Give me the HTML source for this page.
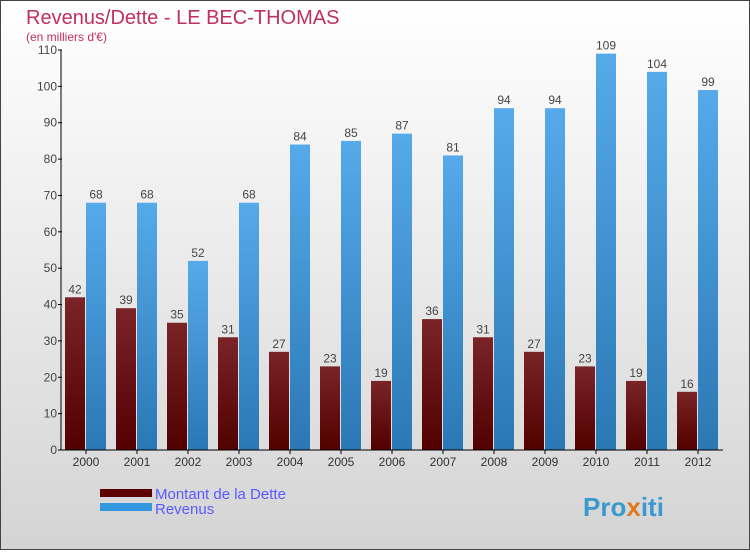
<!DOCTYPE html>
<html><head><meta charset="utf-8"><style>
body{margin:0}
#c{width:750px;height:550px;position:relative;font-family:"Liberation Sans",sans-serif}
</style></head><body>
<div id="c">
<svg width="750" height="550" xmlns="http://www.w3.org/2000/svg">
<defs>
<linearGradient id="bg" x1="0" y1="0" x2="0" y2="1"><stop offset="0" stop-color="#ffffff"/><stop offset="1" stop-color="#d4d4d4"/></linearGradient>
<linearGradient id="gd" x1="0" y1="0" x2="0" y2="1"><stop offset="0" stop-color="#7a2428"/><stop offset="1" stop-color="#520000"/></linearGradient>
<linearGradient id="gr" x1="0" y1="0" x2="0" y2="1"><stop offset="0" stop-color="#56aaea"/><stop offset="1" stop-color="#2a78b4"/></linearGradient>
</defs>
<rect x="0.5" y="0.5" width="749" height="549" fill="url(#bg)" stroke="#444"/>
<text x="26" y="24" font-size="20" fill="#c0305e">Revenus/Dette - LE BEC-THOMAS</text>
<text x="26" y="41" font-size="12" fill="#c0305e">(en milliers d'€)</text>
<g id="bars"></g>
<g id="axes"></g>
<rect x="100" y="489" width="52" height="8" fill="#5c0000"/>
<rect x="100" y="503" width="52" height="8" fill="#3398e0"/>
<text x="155" y="499" font-size="15" fill="#5a5aff">Montant de la Dette</text>
<text x="155" y="514" font-size="15" fill="#5a5aff">Revenus</text>
<text x="583" y="516" font-size="26" font-weight="bold" fill="#3a9ad0">Pro<tspan fill="#e07a20">x</tspan>iti</text>
</svg>
</div>
<script>
const years=["2000","2001","2002","2003","2004","2005","2006","2007","2008","2009","2010","2011","2012"];
const dette=[42,39,35,31,27,23,19,36,31,27,23,19,16];
const revenus=[68,68,52,68,84,85,87,81,94,94,109,104,99];
const yTicks=[0,10,20,30,40,50,60,70,80,90,100,110];
const NS="http://www.w3.org/2000/svg";
const y0=450, pxPer=400/110;
function ys(v){return y0-v*pxPer;}
function xs(i){return 86+i*51;}
function mk(t,a,p){const e=document.createElementNS(NS,t);for(const k in a)e.setAttribute(k,a[k]);p.appendChild(e);return e;}
const bars=document.getElementById('bars'), axes=document.getElementById('axes');
years.forEach((yr,i)=>{
  const cx=xs(i);
  const d=mk('rect',{x:cx-21,y:ys(dette[i]),width:20,height:dette[i]*pxPer,fill:'url(#gd)'},bars);
  
  
  const r=mk('rect',{x:cx,y:ys(revenus[i]),width:20,height:revenus[i]*pxPer,fill:'url(#gr)'},bars);
  
  
  const t1=mk('text',{x:cx-11,y:ys(dette[i])-4,'font-size':12,fill:'#444','text-anchor':'middle'},bars);
  t1.textContent=dette[i];
  
  
  const t2=mk('text',{x:cx+10,y:ys(revenus[i])-4,'font-size':12,fill:'#444','text-anchor':'middle'},bars);
  t2.textContent=revenus[i];
  
  
  mk('line',{x1:cx,y1:y0,x2:cx,y2:y0+4,stroke:'#000'},axes);
  const xl=mk('text',{x:cx,y:y0+16,'font-size':12,fill:'#333','text-anchor':'middle'},axes);
  xl.textContent=yr;
  
  
});
yTicks.forEach(v=>{
  mk('line',{x1:58,y1:ys(v),x2:62,y2:ys(v),stroke:'#000'},axes);
  const t=mk('text',{x:57,y:ys(v)+4,'font-size':12,fill:'#444','text-anchor':'end'},axes);
  t.textContent=v;
  
  
});
const ya=mk('line',{x1:61,y1:ys(110),x2:61,y2:y0,stroke:'#000'},axes);


const xa=mk('line',{x1:61,y1:y0,x2:723,y2:y0,stroke:'#000'},axes);


</script>
</body></html>
